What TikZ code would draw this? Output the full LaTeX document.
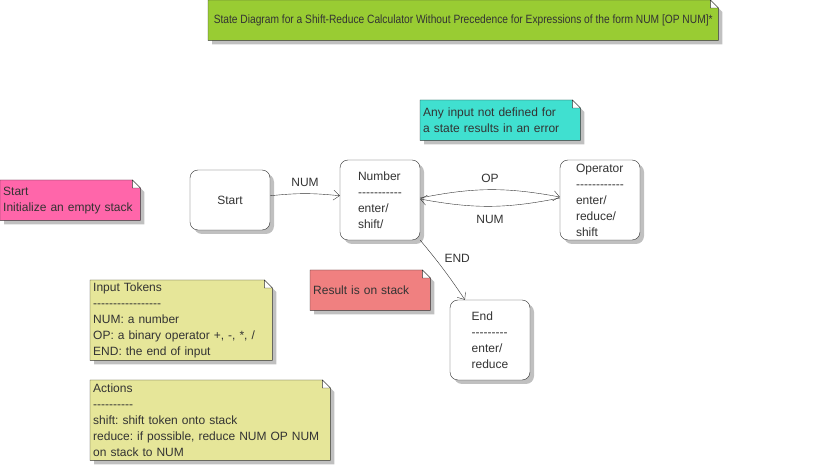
\documentclass[tikz,border=0pt]{standalone}
\usepackage{fontspec}
\setmainfont{Liberation Sans}
\usetikzlibrary{arrows.meta,shadows,backgrounds}
\definecolor{titlegreen}{HTML}{99CC33}
\definecolor{notepink}{HTML}{FF66AA}
\definecolor{noteteal}{HTML}{40E0D0}
\definecolor{notered}{HTML}{F08080}
\definecolor{noteyellow}{HTML}{E6E699}
\definecolor{linegray}{HTML}{333333}
\definecolor{shadowgray}{HTML}{C0C0C0}
\newcommand\dashes[1]{\foreach \i in {1,...,#1}{\mbox{-}}}
\frenchspacing

\begin{document}
\begin{tikzpicture}[x=1pt, y=-1pt, font=\fontsize{12}{16}\selectfont, text=linegray,
  shade/.style={drop shadow={shadow xshift=4pt, shadow yshift=-4pt, fill=shadowgray, opacity=1}},
  state/.style={rectangle, rounded corners=8pt, draw=linegray, fill=white, minimum width=80pt, minimum height=80pt, inner ysep=0pt, align=left, shade},
  note/.style={anchor=north west, text width=#1, inner xsep=3pt, inner ysep=0pt, minimum height=40pt, align=left},
  trans/.style={draw=linegray, -{Straight Barb[length=6pt, width=10pt]}}]

  \useasboundingbox (0,0) rectangle (815,465);

  % notes
  \node[anchor=north west, minimum width=510pt, minimum height=40pt, inner sep=0pt] (title) at (208,0) {\scalebox{0.852}[1]{State Diagram for a Shift-Reduce Calculator Without Precedence for Expressions of the form NUM [OP NUM]*}};
  \node[note=134pt] (startnote) at (0,180) {Start\\Initialize an empty stack};
  \node[note=154pt] (errornote) at (420,100) {Any input not defined for\\a state results in an error};
  \node[note=114pt] (resultnote) at (310,270) {Result is on stack};
  \node[note=176pt, minimum height=80pt] (tokennote) at (90,280) {Input Tokens\\\dashes{17}\\NUM: a number\\OP: a binary operator +, -, *, /\\END: the end of input};
  \node[note=234pt, minimum height=80pt] (actionnote) at (90,380) {Actions\\\dashes{10}\\shift: shift token onto stack\\reduce: if possible, reduce NUM OP NUM\\on stack to NUM};

  % states
  \node[state, minimum height=60pt] (start) at (230,200) {Start};
  \node[state] (number) at (380,200) {Number\\\dashes{11}\\enter/\\shift/};
  \node[state] (operator) at (600,200) {Operator\\\dashes{12}\\enter/\\reduce/\\shift};
  \node[state] (end) at (490,340) {End\\\dashes{9}\\enter/\\reduce};

  % transitions
  \draw[trans] (start) to[bend left=6] node[above=3pt] (numlabel) {NUM} (number);
  \draw[trans] ([yshift=2pt]number.east) to[bend left=11] node[above=4pt] (oplabel) {OP} ([yshift=3pt]operator.west);
  \draw[trans] ([yshift=2pt]operator.west) to[bend left=11] node[below=5pt] (backlabel) {NUM} ([yshift=1pt]number.east);
  \draw[trans] (number.south east) to[bend left=3] node[pos=0.3, right=6pt] (endlabel) {END} (end);

  \begin{scope}[on background layer]
    \foreach \n/\c in {title/titlegreen, startnote/notepink, errornote/noteteal, resultnote/notered, tokennote/noteyellow, actionnote/noteyellow}{
      \filldraw[fill=\c, draw=linegray, shade] (\n.north west) -- ([xshift=-8pt]\n.north east) -- ([yshift=-8pt]\n.north east) -- (\n.south east) -- (\n.south west) -- cycle;
      \filldraw[fill=white, draw=linegray] ([xshift=-8pt]\n.north east) |- ([yshift=-8pt]\n.north east) -- cycle;
    }
  \end{scope}
\end{tikzpicture}
\end{document}
